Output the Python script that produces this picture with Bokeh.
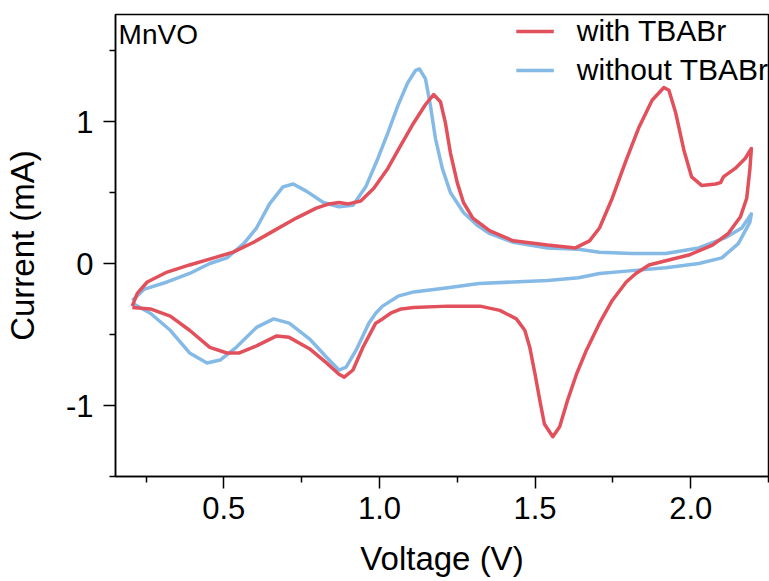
from bokeh.plotting import figure
from bokeh.models import FixedTicker, PrintfTickFormatter, Legend, LegendItem, Label
from bokeh.embed import file_html
from bokeh.resources import INLINE

# with TBABr: anodic sweep (0.2 -> 2.2 V) then cathodic sweep back
red_v = [0.206, 0.222, 0.254, 0.318, 0.39, 0.468, 0.53, 0.596, 0.66, 0.733, 0.797, 0.838, 0.87,
         0.90, 0.94, 0.982, 1.027, 1.068, 1.11, 1.148, 1.174, 1.196, 1.212, 1.228, 1.25, 1.27,
         1.30, 1.355, 1.43, 1.54, 1.63, 1.675, 1.707, 1.748, 1.793, 1.834, 1.876, 1.914, 1.93,
         1.952, 1.978, 2.003, 2.035, 2.08, 2.096, 2.105, 2.143, 2.175, 2.195,
         2.19, 2.18, 2.16, 2.12, 2.07, 1.994, 1.92, 1.866, 1.824, 1.793, 1.748, 1.707, 1.665,
         1.633, 1.605, 1.579, 1.557, 1.53, 1.515, 1.50, 1.483, 1.467, 1.44, 1.387, 1.323, 1.22,
         1.11, 1.07, 1.036, 1.01, 0.988, 0.947, 0.915, 0.887, 0.87, 0.83, 0.775, 0.71, 0.67,
         0.605, 0.55, 0.51, 0.455, 0.39, 0.328, 0.264, 0.206]
red_i = [-0.30, -0.21, -0.13, -0.06, -0.01, 0.04, 0.08, 0.15, 0.23, 0.32, 0.39, 0.42, 0.43,
         0.42, 0.44, 0.53, 0.67, 0.83, 0.99, 1.12, 1.19, 1.14, 0.99, 0.78, 0.57, 0.43,
         0.32, 0.23, 0.16, 0.13, 0.11, 0.16, 0.25, 0.46, 0.73, 0.96, 1.15, 1.24, 1.22,
         1.06, 0.80, 0.61, 0.55, 0.56, 0.57, 0.61, 0.67, 0.74, 0.81,
         0.66, 0.46, 0.33, 0.21, 0.13, 0.06, 0.02, -0.01, -0.07, -0.13, -0.26, -0.42, -0.61,
         -0.78, -0.96, -1.15, -1.22, -1.13, -0.96, -0.78, -0.59, -0.47, -0.39, -0.33, -0.30, -0.30,
         -0.31, -0.32, -0.35, -0.39, -0.42, -0.59, -0.75, -0.80, -0.78, -0.70, -0.60, -0.52, -0.51,
         -0.58, -0.63, -0.63, -0.59, -0.47, -0.37, -0.32, -0.31]

# without TBABr
blue_v = [0.206, 0.245, 0.318, 0.39, 0.455, 0.51, 0.564, 0.605, 0.647, 0.69, 0.723, 0.765, 0.82,
          0.87, 0.915, 0.956, 0.995, 1.027, 1.059, 1.09, 1.116, 1.129, 1.148, 1.164, 1.18, 1.202,
          1.228, 1.27, 1.314, 1.355, 1.43, 1.54, 1.64, 1.707, 1.812, 1.92, 2.026, 2.11, 2.164,
          2.195,
          2.19, 2.153, 2.10, 2.026, 1.92, 1.812, 1.707, 1.64, 1.54, 1.43, 1.32, 1.22, 1.11, 1.06,
          1.01, 0.988, 0.966, 0.925, 0.893, 0.87, 0.83, 0.775, 0.71, 0.66, 0.605, 0.54, 0.488,
          0.446, 0.39, 0.328, 0.264, 0.206]
blue_i = [-0.26, -0.18, -0.13, -0.07, 0.0, 0.04, 0.14, 0.25, 0.42, 0.54, 0.56, 0.51, 0.43,
          0.40, 0.41, 0.54, 0.74, 0.92, 1.11, 1.27, 1.36, 1.37, 1.30, 1.11, 0.88, 0.67,
          0.50, 0.36, 0.27, 0.21, 0.15, 0.11, 0.10, 0.08, 0.07, 0.07, 0.11, 0.18, 0.25,
          0.35,
          0.29, 0.14, 0.04, 0.0, -0.03, -0.05, -0.07, -0.10, -0.12, -0.13, -0.14, -0.17, -0.20, -0.23,
          -0.30, -0.35, -0.42, -0.61, -0.73, -0.75, -0.66, -0.53, -0.42, -0.39, -0.45, -0.59, -0.68,
          -0.70, -0.63, -0.47, -0.35, -0.28]

x_ticks = [0.5, 1.0, 1.5, 2.0]
x_minor = [0.25, 0.75, 1.25, 1.75, 2.25]
y_ticks = [-1, 0, 1]
y_minor = [-1.5, -0.5, 0.5, 1.5]

RED = "#E2505C"
BLUE = "#85B9E6"
FONT = "Liberation Sans"

p = figure(width=769, height=581, output_backend="svg", toolbar_location=None,
           x_range=(0.152, 2.25), y_range=(-1.5, 1.754))
p.min_border_left = 113
p.min_border_right = 1
p.min_border_top = 14
p.min_border_bottom = 105
p.grid.visible = False
p.outline_line_color = "black"
p.outline_line_width = 1.5
p.background_fill_color = "white"
p.border_fill_color = "white"

r2 = p.line(blue_v, blue_i, line_color=BLUE, line_width=3.5, line_join="round")
r1 = p.line(red_v, red_i, line_color=RED, line_width=3.5, line_join="round")

for ax in (p.xaxis[0], p.yaxis[0]):
    ax.axis_line_width = 1.5
    ax.major_tick_line_width = 1.5
    ax.minor_tick_line_width = 1.5
    ax.major_tick_out = 12
    ax.major_tick_in = 0
    ax.minor_tick_out = 6
    ax.minor_tick_in = 0
    ax.major_label_text_font = FONT
    ax.major_label_text_font_size = "31px"
    ax.major_label_text_color = "black"
    ax.axis_label_text_font = FONT
    ax.axis_label_text_font_size = "33px"
    ax.axis_label_text_font_style = "normal"
    ax.axis_label_text_color = "black"

p.xaxis[0].ticker = FixedTicker(ticks=x_ticks, minor_ticks=x_minor)
p.xaxis[0].formatter = PrintfTickFormatter(format="%.1f")
p.xaxis[0].axis_label = "Voltage (V)"
p.xaxis[0].major_label_standoff = 8
p.xaxis[0].axis_label_standoff = 18

p.yaxis[0].ticker = FixedTicker(ticks=y_ticks, minor_ticks=y_minor)
p.yaxis[0].formatter = PrintfTickFormatter(format="%d")
p.yaxis[0].axis_label = "Current (mA)"
p.yaxis[0].major_label_standoff = 10
p.yaxis[0].axis_label_standoff = 22

lbl = Label(x=0.162, y=1.754, text="MnVO", text_font=FONT, text_font_size="28px",
            text_color="black", text_baseline="top", y_offset=-4)
p.add_layout(lbl)

legend = Legend(items=[LegendItem(label="with TBABr", renderers=[r1]),
                       LegendItem(label="without TBABr", renderers=[r2])],
                location="top_right", border_line_color=None, background_fill_alpha=0,
                label_text_font=FONT, label_text_font_size="30px", label_text_color="black",
                glyph_width=38, label_standoff=23, spacing=5, padding=6, margin=0)
p.add_layout(legend)

open("out.html", "w").write(file_html(p, INLINE))
